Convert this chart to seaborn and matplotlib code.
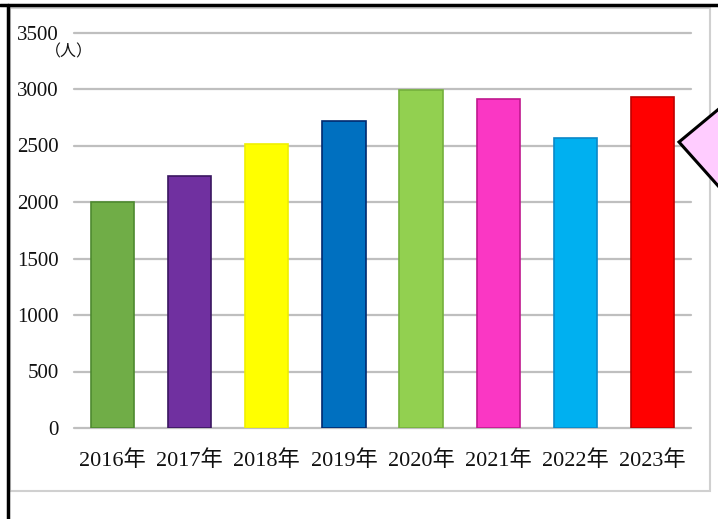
import matplotlib
matplotlib.use("Agg")
import matplotlib.pyplot as plt
import seaborn as sns
import pandas as pd
from matplotlib.patches import Polygon, Rectangle
from matplotlib.lines import Line2D

years = ["2016年", "2017年", "2018年", "2019年", "2020年", "2021年", "2022年", "2023年"]
counts = [2000, 2230, 2515, 2720, 2990, 2910, 2570, 2930]
fill_colors = ["#70AD47", "#7030A0", "#FFFF00", "#0070C0", "#92D050", "#FA37C4", "#00B0F0", "#FF0000"]
edge_colors = ["#4E8A30", "#3A1660", "#F0F000", "#002A70", "#74B03C", "#C0188E", "#0A88C8", "#C00000"]
y_ticks = [0, 500, 1000, 1500, 2000, 2500, 3000, 3500]
unit_label = "（人）"

sns.set_theme(style="white")
FONT = ["Liberation Serif", "Noto Sans CJK JP", "DejaVu Sans"]
plt.rcParams["font.family"] = FONT

fig = plt.figure(figsize=(7.18, 5.19), dpi=100)
W, H = 718, 519

def fy(y):
    return 1 - y / H

fig.add_artist(Rectangle((10 / W, fy(491)), 700 / W, (491 - 8) / H, transform=fig.transFigure,
                         facecolor="white", edgecolor="#D0D0D0", linewidth=1.5, zorder=0))
fig.add_artist(Line2D([0, 1], [fy(5), fy(5)], transform=fig.transFigure, color="black", linewidth=2.5))
fig.add_artist(Line2D([7.5 / W, 7.5 / W], [0, fy(5)], transform=fig.transFigure, color="black", linewidth=2.5))

ax = fig.add_axes([74 / W, fy(428), 617 / W, (428 - 32.5) / H])
ax.set_facecolor("none")

df = pd.DataFrame({"year": years, "count": counts})
sns.barplot(data=df, x="year", y="count", hue="year", palette=fill_colors, legend=False,
            width=0.56, saturation=1, ax=ax, zorder=3)
for p, ec in zip(ax.patches, edge_colors):
    p.set_edgecolor(ec)
    p.set_linewidth(1.2)

ax.set_xlim(-0.5, len(years) - 0.5)
ax.set_ylim(0, 3500)
ax.set_yticks(y_ticks)
ax.set_yticklabels([str(v) for v in y_ticks])
for yv in y_ticks:
    ax.axhline(yv, color="#BFBFBF", linewidth=1.6, zorder=1, clip_on=False)
for s in ax.spines.values():
    s.set_visible(False)
ax.set_xlabel("")
ax.set_ylabel("")
ax.tick_params(axis="y", length=0, pad=11, labelsize=15)
ax.tick_params(axis="x", length=0, pad=16, labelsize=16)
for t in ax.get_xticklabels() + ax.get_yticklabels():
    t.set_family(FONT)
    t.set_color("#111111")

fig.text(69 / W, fy(52), unit_label, ha="center", va="center", fontsize=11.5,
         family=["Noto Sans CJK JP", "DejaVu Sans"], color="#111111")

pts = [(679, 142), (720, 108), (720, 188)]
fig.add_artist(Polygon([(x / W, fy(y)) for x, y in pts], closed=True, transform=fig.transFigure,
                       facecolor="#FFCCFF", edgecolor="black", linewidth=2.2, zorder=5))

fig.savefig("out.png", dpi=100)
